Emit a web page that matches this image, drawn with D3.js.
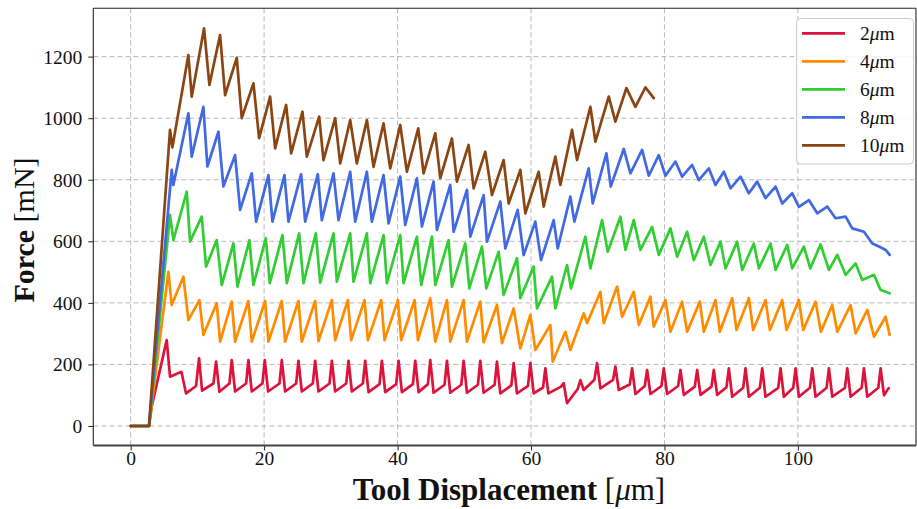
<!DOCTYPE html>
<html>
<head>
<meta charset="utf-8">
<script src="https://cdn.jsdelivr.net/npm/d3@7"></script>
<style>
  html, body { margin: 0; padding: 0; background: #fff; }
  svg { display: block; font-family: "Liberation Serif", "Times New Roman", serif; }
</style>
</head>
<body>
<svg id="chart" width="917" height="509"></svg>
<script>
// Tool widths (µm) shown in the legend, and their line colours
const seriesNames = ["2", "4", "6", "8", "10"];
const seriesColors = ["#dc143c", "#ff8c00", "#32cd32", "#4169e1", "#8b4513"];

// Axis ticks
const xTicks = [0, 20, 40, 60, 80, 100];
const yTicks = [0, 200, 400, 600, 800, 1000, 1200];

// Force [mN] against tool displacement [µm], one array of [x, y] vertices per tool width
const force2um = [
  [0,0],[2.75,0],[3.15,63],[5.4,279],[5.9,160],[7.6,176],[8.3,106],[9.8,130],[10.25,220],[10.7,115],
  [12.4,138],[12.8,209],[13.3,111],[14.8,138],[15.15,214],[15.65,112],[17.3,138],[17.65,214],[18.15,112],
  [19.75,138],[20.1,214],[20.6,112],[22.3,138],[22.65,214],[23.15,112],[24.8,138],[25.15,212],[25.65,112],
  [27.3,138],[27.65,212],[28.15,112],[29.8,138],[30.15,212],[30.65,112],[32.3,138],[32.65,212],[33.15,112],
  [34.8,138],[35.15,212],[35.65,110],[37.3,136],[37.65,212],[38.15,110],[39.8,136],[40.15,212],[40.65,110],
  [42.3,136],[42.65,212],[43.15,110],[44.55,136],[44.9,214],[45.4,108],[47.05,134],[47.4,212],[47.9,108],
  [49.55,134],[49.9,212],[50.4,108],[52.05,134],[52.4,212],[52.9,108],[54.55,134],[54.9,209],[55.4,106],
  [57.05,132],[57.4,204],[57.9,106],[59.55,130],[59.9,204],[60.4,106],[61.8,125],[62.15,187],[62.6,106],
  [64.5,128],[64.9,139],[65.4,74],[67.0,120],[67.4,149],[67.9,117],[69.5,150],[69.9,204],[70.4,122],
  [72.3,150],[72.65,193],[73.15,117],[74.8,135],[75.15,187],[75.65,104],[77.05,130],[77.4,182],[77.9,104],
  [79.55,130],[79.9,187],[80.4,104],[82.05,130],[82.4,182],[82.9,101],[84.55,128],[84.9,182],[85.4,101],
  [87.05,128],[87.4,182],[87.9,101],[89.3,126],[89.65,187],[90.15,95],[91.8,124],[92.15,187],[92.65,95],
  [94.3,124],[94.65,187],[95.15,95],[97.05,124],[97.4,187],[97.9,95],[99.3,124],[99.65,187],[100.15,95],
  [101.8,124],[102.15,187],[102.65,95],[104.3,124],[104.65,187],[105.15,95],[107.05,124],[107.4,187],
  [107.9,95],[109.55,124],[109.9,187],[110.4,95],[112.05,124],[112.4,187],[112.9,100],[113.6,123]
];

const force4um = [
  [0,0],[2.75,0],[5.65,501],[6.15,393],[7.9,485],[8.65,344],[10.3,409],[10.9,296],[12.9,399],[13.4,274],
  [15.15,404],[15.65,274],[17.65,406],[18.15,274],[20.15,406],[20.65,274],[22.65,406],[23.15,274],
  [25.15,406],[25.65,274],[27.65,406],[28.15,276],[30.15,409],[30.65,279],[32.55,409],[33.05,279],
  [35.05,409],[35.55,279],[37.55,409],[38.05,279],[40.05,409],[40.55,279],[42.55,409],[43.05,279],
  [44.9,415],[45.65,274],[47.4,409],[47.9,274],[49.9,409],[50.4,274],[52.4,404],[52.9,272],[54.9,393],
  [55.65,269],[57.4,382],[58.4,252],[59.9,361],[60.65,247],[62.9,328],[63.25,209],[65.15,306],[65.9,247],
  [67.9,366],[68.4,334],[70.4,436],[70.9,334],[72.9,453],[73.65,355],[75.4,436],[76.15,328],[77.9,420],
  [78.4,323],[80.15,409],[80.9,306],[82.65,404],[83.4,306],[85.3,404],[85.9,306],[87.65,409],[88.3,306],
  [90.15,415],[90.8,312],[92.65,415],[93.3,312],[95.15,409],[95.8,312],[97.65,409],[98.3,312],
  [100.15,409],[100.8,312],[102.65,404],[103.45,306],[105.15,393],[105.9,306],[107.9,393],[108.65,301],
  [110.4,377],[111.4,290],[113.15,355],[113.75,296]
];

const force6um = [
  [0,0],[2.75,0],[5.9,686],[6.4,604],[8.4,761],[8.9,599],[10.65,680],[11.3,518],[12.9,604],[13.65,458],
  [15.4,593],[16.0,453],[17.8,604],[18.4,458],[20.25,610],[20.85,464],[22.75,620],[23.4,464],[25.25,626],
  [25.9,464],[27.75,626],[28.4,466],[30.4,626],[30.9,469],[32.9,626],[33.4,469],[35.4,626],[35.9,464],
  [37.9,620],[38.4,464],[40.4,620],[40.9,464],[42.9,615],[43.55,458],[45.15,615],[45.65,458],[47.65,604],
  [48.15,453],[50.15,593],[50.75,447],[52.65,583],[53.3,447],[55.15,566],[55.9,426],[57.9,545],[58.4,415],
  [60.4,518],[60.9,382],[63.15,485],[63.65,382],[65.4,523],[66.0,447],[68.15,615],[68.9,512],[70.65,669],
  [71.5,566],[73.4,680],[74.15,572],[75.4,669],[76.4,572],[78.15,647],[79.15,556],[80.9,642],[81.9,550],
  [83.4,631],[84.4,539],[85.9,615],[86.9,523],[88.4,599],[89.15,512],[90.9,599],[91.65,507],[93.4,593],
  [94.15,512],[95.9,593],[96.65,507],[98.4,588],[99.15,512],[100.9,583],[101.85,512],[103.4,590],
  [104.65,507],[105.9,556],[107.15,491],[108.65,528],[109.65,474],[111.4,491],[112.4,442],[113.75,431]
];

const force8um = [
  [0,0],[2.75,0],[6.15,832],[6.4,783],[8.65,1016],[9.15,875],[10.9,1037],[11.5,843],[13.15,956],[13.9,778],
  [15.65,880],[16.4,702],[18.15,821],[18.8,664],[20.65,815],[21.25,664],[23.05,815],[23.65,664],[25.55,818],
  [26.15,664],[28.05,818],[28.65,669],[30.4,821],[31.15,669],[32.9,826],[33.65,664],[35.4,826],[36.15,664],
  [37.9,815],[38.65,658],[40.4,810],[41.15,653],[42.9,805],[43.65,648],[45.4,794],[45.9,637],[47.9,783],
  [48.4,631],[50.4,767],[50.9,615],[52.9,750],[53.4,599],[55.4,729],[56.15,577],[58.0,702],[58.9,555],
  [60.65,664],[61.5,539],[63.4,669],[64.0,577],[65.9,745],[66.5,664],[68.65,837],[69.25,723],[71.3,886],
  [71.95,778],[73.9,900],[74.9,821],[76.65,897],[77.65,813],[79.15,880],[80.15,813],[81.65,859],[82.65,810],
  [84.15,848],[85.15,799],[86.65,837],[87.65,783],[88.9,826],[89.9,772],[91.4,810],[92.65,756],[93.9,794],
  [95.15,740],[96.65,778],[97.65,723],[99.15,756],[100.15,712],[101.65,734],[102.9,691],[104.4,713],
  [105.65,675],[107.15,680],[108.15,642],[109.9,631],[111.15,593],[112.15,583],[113.15,572],[113.75,556]
];

const force10um = [
  [0,0],[2.75,0],[5.9,962],[6.25,905],[8.65,1205],[9.15,1070],[11.0,1292],[11.8,1108],[13.4,1270],
  [14.15,1075],[15.9,1196],[16.65,1000],[18.4,1113],[19.25,935],[20.9,1070],[21.65,902],[23.3,1043],
  [24.05,886],[25.75,1021],[26.4,875],[28.25,1005],[28.9,864],[30.65,1000],[31.4,853],[32.9,994],
  [33.9,853],[35.4,994],[36.4,842],[37.9,983],[38.9,837],[40.4,978],[41.4,826],[43.1,967],[43.9,821],
  [45.65,951],[46.4,805],[48.15,934],[48.9,794],[50.65,913],[51.4,772],[53.15,891],[54.15,750],
  [55.9,864],[56.65,723],[58.4,832],[59.15,691],[61.15,826],[61.9,713],[63.65,875],[64.4,783],
  [66.15,962],[66.9,864],[68.9,1037],[69.65,924],[71.65,1070],[72.65,989],[74.3,1098],[75.65,1037],
  [77.15,1100],[78.4,1065]
];

const seriesData = [force2um, force4um, force6um, force8um, force10um];

// ---- layout ----
const box = { left: 93.3, right: 916, top: 8.3, bottom: 445.5 };
const x = d3.scaleLinear().domain([-5.6, 117.7]).range([box.left, box.right]);
const y = d3.scaleLinear().domain([-63.4, 1357]).range([box.bottom, box.top]);

const svg = d3.select("#chart");
const tickFont = 19.5;

// grid
const grid = svg.append("g").attr("class", "grid")
  .attr("stroke", "#b0b0b0").attr("stroke-width", 0.9).attr("stroke-dasharray", "5,3");
grid.selectAll("line.gx").data(xTicks).join("line")
  .attr("x1", d => x(d)).attr("x2", d => x(d))
  .attr("y1", box.top).attr("y2", box.bottom);
grid.selectAll("line.gy").data(yTicks).join("line")
  .attr("x1", box.left).attr("x2", box.right)
  .attr("y1", d => y(d)).attr("y2", d => y(d));

// curves
const line = d3.line().x(d => x(d[0])).y(d => y(d[1]));
svg.append("g")
  .selectAll("path").data(seriesData).join("path")
  .attr("d", line)
  .attr("fill", "none")
  .attr("stroke", (d, i) => seriesColors[i])
  .attr("stroke-width", 2.7)
  .attr("stroke-linejoin", "round")
  .attr("stroke-linecap", "round");

// axes
const xAxis = svg.append("g").attr("transform", `translate(0,${box.bottom})`)
  .call(d3.axisBottom(x).tickValues(xTicks).tickSize(5).tickPadding(1).tickFormat(d3.format("d")));
const yAxis = svg.append("g").attr("transform", `translate(${box.left},0)`)
  .call(d3.axisLeft(y).tickValues(yTicks).tickSize(5).tickPadding(6).tickFormat(d3.format("d")));
[xAxis, yAxis].forEach(g => {
  g.select(".domain").remove();
  g.selectAll(".tick line").attr("stroke", "#222").attr("stroke-width", 1);
  g.selectAll(".tick text").attr("fill", "#111")
    .style("font-family", "'Liberation Serif', 'Times New Roman', serif")
    .style("font-size", tickFont + "px");
});
yAxis.selectAll(".tick text").attr("dy", "0.33em");

// frame
const frame = svg.append("g").attr("fill", "none");
frame.append("line").attr("x1", box.left).attr("x2", box.left).attr("y1", box.top).attr("y2", box.bottom)
  .attr("stroke", "#222").attr("stroke-width", 1.1);
frame.append("line").attr("x1", box.left).attr("x2", box.right).attr("y1", box.top).attr("y2", box.top)
  .attr("stroke", "#222").attr("stroke-width", 1.1);
frame.append("line").attr("x1", box.right).attr("x2", box.right).attr("y1", box.top).attr("y2", box.bottom)
  .attr("stroke", "#222").attr("stroke-width", 1.1);
frame.append("line").attr("x1", box.left).attr("x2", box.right).attr("y1", box.bottom).attr("y2", box.bottom)
  .attr("stroke", "#444").attr("stroke-width", 1.8);

// axis titles
const xTitle = svg.append("text")
  .attr("x", 509).attr("y", 500)
  .attr("text-anchor", "middle")
  .style("font-size", "31px").attr("fill", "#111");
xTitle.append("tspan").attr("font-weight", "bold").text("Tool Displacement");
xTitle.append("tspan").text(" [");
xTitle.append("tspan").attr("font-style", "italic").text("μ");
xTitle.append("tspan").text("m]");

const yTitle = svg.append("text")
  .attr("transform", "translate(34,230) rotate(-90)")
  .attr("text-anchor", "middle")
  .style("font-size", "30px").attr("fill", "#111");
yTitle.append("tspan").attr("font-weight", "bold").text("Force");
yTitle.append("tspan").text(" [mN]");

// legend
const legend = svg.append("g");
legend.append("rect")
  .attr("x", 796.5).attr("y", 18.5).attr("width", 117).attr("height", 145.5)
  .attr("rx", 4).attr("ry", 4)
  .attr("fill", "#fff").attr("fill-opacity", 0.85)
  .attr("stroke", "#cccccc").attr("stroke-width", 1);
const rows = legend.selectAll("g.row").data(seriesNames).join("g")
  .attr("transform", (d, i) => `translate(0,${33.3 + i * 28})`);
rows.append("line")
  .attr("x1", 802).attr("x2", 845).attr("y1", 0).attr("y2", 0)
  .attr("stroke", (d, i) => seriesColors[i]).attr("stroke-width", 2.7);
const lt = rows.append("text")
  .attr("x", 860).attr("y", 7)
  .style("font-size", "19.5px").attr("fill", "#111");
lt.append("tspan").text(d => d);
lt.append("tspan").attr("font-style", "italic").text("μ");
lt.append("tspan").text("m");
</script>
</body>
</html>
